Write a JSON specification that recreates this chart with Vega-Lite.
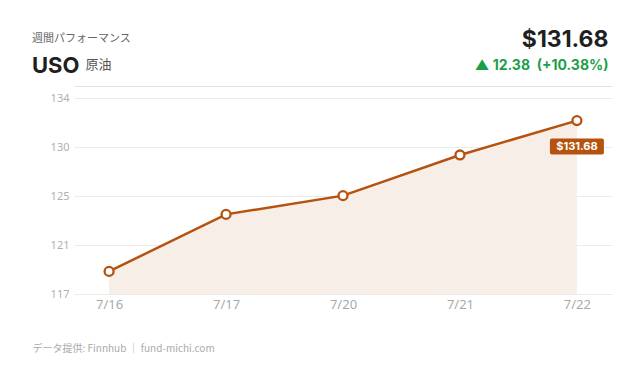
{
  "$schema": "https://vega.github.io/schema/vega-lite/v6.json",
  "width": 538,
  "height": 196,
  "autosize": {"type": "none"},
  "padding": {"left": 74, "top": 98, "right": 28, "bottom": 86},
  "background": "#ffffff",
  "title": {
    "text": "週間パフォーマンス",
    "subtitle": "USO",
    "anchor": "start",
    "frame": "group",
    "dx": -42,
    "offset": -49,
    "font": "Noto Sans CJK JP",
    "fontSize": 11,
    "fontWeight": "normal",
    "color": "#666666",
    "subtitleFont": "Inter",
    "subtitleFontSize": 22,
    "subtitleFontWeight": "bold",
    "subtitleColor": "#1f1f1f",
    "subtitlePadding": 12
  },
  "data": {
    "values": [
      {"date": "7/16", "value": 119.30},
      {"date": "7/17", "value": 123.98},
      {"date": "7/20", "value": 125.52},
      {"date": "7/21", "value": 128.86},
      {"date": "7/22", "value": 131.68}
    ]
  },
  "config": {
    "view": {"stroke": null},
    "axis": {"labelFont": "Noto Sans", "titleFont": "Noto Sans CJK JP"}
  },
  "layer": [
    {
      "mark": {"type": "area", "color": "#f8eee8", "opacity": 1, "clip": true},
      "encoding": {
        "x": {
          "field": "date", "type": "nominal", "sort": null,
          "scale": {"type": "point", "padding": 0.3},
          "axis": {
            "orient": "bottom", "labelAngle": 0, "labelColor": "#aaaaaa", "labelFontSize": 13,
            "labelPadding": 4, "ticks": false, "domain": false, "grid": false,
            "title": "データ提供: Finnhub ｜ fund-michi.com",
            "titleFontSize": 10, "titleFontWeight": "normal", "titleColor": "#aaaaaa",
            "titleAnchor": "start", "titleAlign": "left", "titleBaseline": "alphabetic",
            "titleX": -42, "titleY": 57
          }
        },
        "y": {
          "field": "value", "type": "quantitative",
          "scale": {"domain": [117.443, 133.537], "zero": false, "nice": false},
          "axis": {
            "orient": "left",
            "values": [117.443, 121.4665, 125.49, 129.5135, 133.537],
            "format": ".0f",
            "labelColor": "#b0b0b0", "labelFontSize": 11, "labelPadding": 5,
            "ticks": false, "domain": false, "grid": true, "gridColor": "#ebebeb",
            "title": "原油", "titleAngle": 0, "titleAlign": "left", "titleBaseline": "alphabetic",
            "titleX": 11, "titleY": -30, "titleFontSize": 13, "titleFontWeight": "normal",
            "titleColor": "#555555"
          }
        }
      }
    },
    {
      "mark": {"type": "line", "color": "#b5520e", "strokeWidth": 2.5},
      "encoding": {
        "x": {
          "field": "date", "type": "nominal", "sort": null,
          "axis": {
            "orient": "top", "labels": false, "ticks": false, "grid": false,
            "domain": true, "domainColor": "#e4e3de", "offset": 12,
            "title": "▲ 12.38\u00a0\u00a0(+10.38%)", "titleFont": "Inter", "titleFontSize": 14,
            "titleFontWeight": "bold", "titleColor": "#1e9e4a",
            "titleAlign": "right", "titleBaseline": "alphabetic", "titleX": 534, "titleY": -17
          }
        },
        "y": {
          "field": "value", "type": "quantitative",
          "axis": {
            "orient": "right", "labels": false, "ticks": false, "domain": false, "grid": false,
            "title": "$131.68", "titleFont": "Inter", "titleFontSize": 23, "titleFontWeight": "bold",
            "titleColor": "#1f1f1f", "titleAngle": 0, "titleAlign": "right", "titleBaseline": "alphabetic",
            "titleX": -4, "titleY": -52
          }
        }
      }
    },
    {
      "mark": {"type": "point", "filled": true, "fill": "#ffffff", "stroke": "#b5520e", "strokeWidth": 2.3, "size": 80, "opacity": 1},
      "encoding": {
        "x": {"field": "date", "type": "nominal", "sort": null, "axis": null},
        "y": {"field": "value", "type": "quantitative", "axis": null}
      }
    },
    {
      "transform": [{"filter": "datum.date == '7/22'"}],
      "mark": {"type": "rect", "color": "#b5520e", "width": 54, "height": 16, "cornerRadius": 2},
      "encoding": {
        "x": {"field": "date", "type": "nominal", "sort": null, "axis": null},
        "y": {"field": "value", "type": "quantitative", "axis": null},
        "yOffset": {"value": 26}
      }
    },
    {
      "transform": [{"filter": "datum.date == '7/22'"}],
      "mark": {"type": "text", "color": "#ffffff", "font": "Inter", "fontSize": 11, "fontWeight": "bold", "dy": 26, "baseline": "middle", "align": "center"},
      "encoding": {
        "x": {"field": "date", "type": "nominal", "sort": null, "axis": null},
        "y": {"field": "value", "type": "quantitative", "axis": null},
        "text": {"field": "value", "type": "quantitative", "format": "$.2f"}
      }
    }
  ],
  "resolve": {"axis": {"x": "independent", "y": "independent"}}
}
